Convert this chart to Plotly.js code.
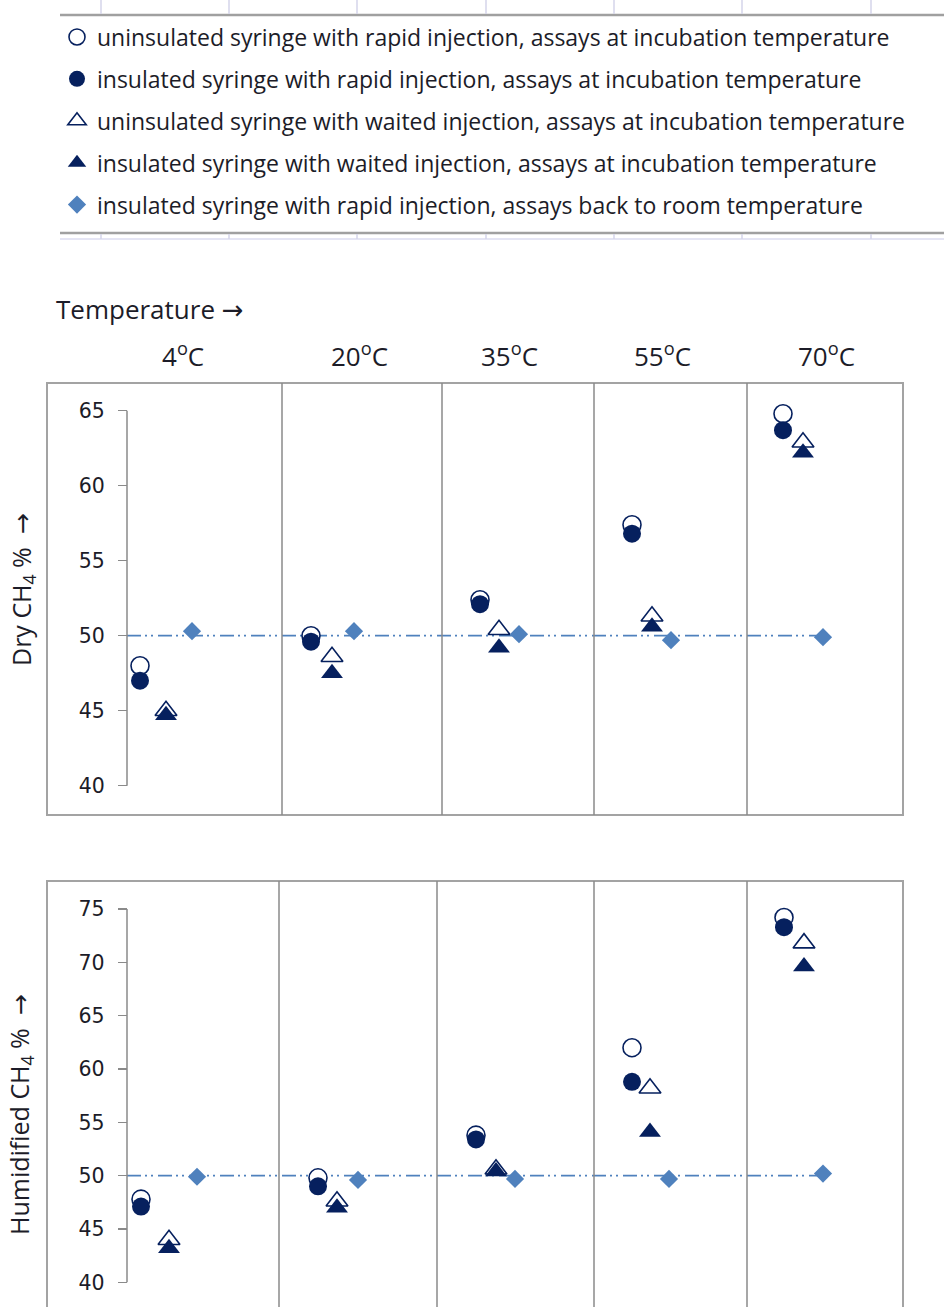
<!DOCTYPE html>
<html>
<head>
<meta charset="utf-8">
<script src="https://cdn.plot.ly/plotly-3.0.1.min.js"></script>
<style>
  html, body { margin: 0; padding: 0; background: #ffffff; }
  #chart { width: 944px; height: 1307px; }
</style>
</head>
<body>
<div id="chart"></div>
<script>
// ---- data -------------------------------------------------------------
const temperatures = ['4', '20', '35', '55', '70'];
const tempLabels = temperatures.map(t => t + '<sup>o</sup>C');

const seriesNames = [
  'uninsulated syringe with rapid injection, assays at incubation temperature',
  'insulated syringe with rapid injection, assays at incubation temperature',
  'uninsulated syringe with waited injection, assays at incubation temperature',
  'insulated syringe with waited injection, assays at incubation temperature',
  'insulated syringe with rapid injection, assays back to room temperature'
];

// Dry CH4 % per temperature
const dryUninsRapid  = [48.0, 50.0, 52.4, 57.4, 64.8];
const dryInsRapid    = [47.0, 49.6, 52.1, 56.8, 63.7];
const dryUninsWaited = [45.0, 48.6, 50.4, 51.3, 62.9];
const dryInsWaited   = [44.7, 47.5, 49.2, 50.6, 62.2];
const dryInsRoom     = [50.3, 50.3, 50.1, 49.7, 49.9];

// Humidified CH4 % per temperature
const humUninsRapid  = [47.8, 49.8, 53.8, 62.0, 74.2];
const humInsRapid    = [47.1, 49.0, 53.4, 58.8, 73.3];
const humUninsWaited = [44.0, 47.6, 50.6, 58.2, 71.8];
const humInsWaited   = [43.2, 47.0, 50.4, 54.1, 69.6];
const humInsRoom     = [49.9, 49.6, 49.7, 49.7, 50.2];

// nominal CH4 content of the test gas
const refLevel = 50;

// horizontal placement (x-axis units) of each assay within a temperature column
const dryRapidX  = [9.3, 26.4, 43.3, 58.5, 73.6];
const dryWaitedX = [11.9, 28.5, 45.2, 60.5, 75.6];
const dryRoomX   = [14.5, 30.7, 47.2, 62.4, 77.6];
const humRapidX  = [9.4, 27.1, 42.9, 58.5, 73.7];
const humWaitedX = [12.2, 29.0, 44.9, 60.3, 75.7];
const humRoomX   = [15.0, 31.1, 46.8, 62.2, 77.6];

const dryTicks = [40, 45, 50, 55, 60, 65];
const humTicks = [40, 45, 50, 55, 60, 65, 70, 75];

// ---- page geometry ------------------------------------------------------
const W = 944, H = 1307;
const fx = px => px / W;
const fy = py => 1 - py / H;

const NAVY = '#06205e';
const LIGHT = '#4f81bd';
const GRID = '#8a8a8a';
const BOX = '#a3a3a3';
const TXT = '#1c1c28';
const SANS = '"Open Sans", "Noto Sans", sans-serif';
const ARROW = '<span style="font-family:\'DejaVu Sans\'">\u2192</span>';

function panelTraces(xa, ya, rapidX, waitedX, roomX, vals, axisX, showLeg) {
  const styles = [
    {symbol: 'circle', size: 18, color: '#ffffff', line: {color: NAVY, width: 1.6}},
    {symbol: 'circle', size: 18, color: NAVY, line: {color: NAVY, width: 0}},
    {symbol: 'triangle-up', size: 19, color: '#ffffff', line: {color: NAVY, width: 1.6}},
    {symbol: 'triangle-up', size: 19, color: NAVY, line: {color: NAVY, width: 0}},
    {symbol: 'diamond', size: 14, color: LIGHT, line: {color: LIGHT, width: 0}}
  ];
  const xs = [rapidX, rapidX, waitedX, waitedX, roomX];
  const traces = [{
    type: 'scatter', mode: 'lines', xaxis: xa, yaxis: ya,
    x: [axisX, roomX[roomX.length - 1]], y: [refLevel, refLevel],
    line: {color: LIGHT, width: 1.8, dash: '14px,4px,2px,4px,2px,5px'},
    showlegend: false, hoverinfo: 'skip'
  }];
  vals.forEach((v, i) => {
    traces.push({
      type: 'scatter', mode: 'markers', xaxis: xa, yaxis: ya,
      name: seriesNames[i], legendgroup: 'g' + i, showlegend: showLeg,
      x: xs[i], y: v, text: tempLabels,
      marker: styles[i], cliponaxis: false
    });
  });
  return traces;
}

const data = [].concat(
  panelTraces('x', 'y', dryRapidX, dryWaitedX, dryRoomX,
    [dryUninsRapid, dryInsRapid, dryUninsWaited, dryInsWaited, dryInsRoom], 8.0, true),
  panelTraces('x2', 'y2', humRapidX, humWaitedX, humRoomX,
    [humUninsRapid, humInsRapid, humUninsWaited, humInsWaited, humInsRoom], 8.0, false)
);

// ---- layout -------------------------------------------------------------
const xRange = [0, 85.6];
const hiddenX = {
  domain: [fx(47), fx(903)], range: xRange, visible: false,
  showgrid: false, zeroline: false, fixedrange: true
};
function yAxis(domain, range, ticks, posPx) {
  return {
    domain: domain, range: range, anchor: 'free', position: fx(posPx),
    tickvals: ticks, ticks: 'outside', ticklen: 9, tickwidth: 1.3, tickcolor: GRID,
    showgrid: false, zeroline: false, showline: false,
    ticklabelstandoff: 9,
    tickfont: {family: '"DejaVu Sans", Verdana, sans-serif', size: 20.5, color: TXT},
    fixedrange: true
  };
}

const shapes = [];
// panel frames
shapes.push({type: 'rect', xref: 'paper', yref: 'paper',
  x0: fx(47), x1: fx(903), y0: fy(815), y1: fy(383), line: {color: BOX, width: 2}});
shapes.push({type: 'rect', xref: 'paper', yref: 'paper',
  x0: fx(47), x1: fx(903), y0: fy(1330), y1: fy(881), line: {color: BOX, width: 2}});
// column separators between temperatures
const drySep = [23.5, 39.5, 54.7, 70.0];
const humSep = [23.2, 39.0, 54.7, 70.0];
drySep.forEach(s => shapes.push({type: 'line', xref: 'x', yref: 'paper',
  x0: s, x1: s, y0: fy(815), y1: fy(383), line: {color: GRID, width: 1.5}}));
humSep.forEach(s => shapes.push({type: 'line', xref: 'x2', yref: 'paper',
  x0: s, x1: s, y0: fy(1330), y1: fy(881), line: {color: GRID, width: 1.5}}));
// value-axis spines covering only the labelled range
shapes.push({type: 'line', xref: 'x', yref: 'y', x0: 8.0, x1: 8.0,
  y0: dryTicks[0], y1: dryTicks[dryTicks.length - 1], line: {color: GRID, width: 1.5}});
shapes.push({type: 'line', xref: 'x2', yref: 'y2', x0: 8.0, x1: 8.0,
  y0: humTicks[0], y1: humTicks[humTicks.length - 1], line: {color: GRID, width: 1.5}});
// legend rules
shapes.push({type: 'line', xref: 'paper', yref: 'paper', x0: fx(60), x1: 1,
  y0: fy(15), y1: fy(15), line: {color: '#a0a0a0', width: 2.5}});
shapes.push({type: 'line', xref: 'paper', yref: 'paper', x0: fx(60), x1: 1,
  y0: fy(233), y1: fy(233), line: {color: '#a0a0a0', width: 2.5}});
shapes.push({type: 'line', xref: 'paper', yref: 'paper', x0: fx(60), x1: 1,
  y0: fy(239), y1: fy(239), line: {color: '#dcdcf0', width: 1.5}});
[101, 229, 357, 486, 614, 742, 871].forEach(p => {
  shapes.push({type: 'line', xref: 'paper', yref: 'paper', x0: fx(p), x1: fx(p),
    y0: fy(0), y1: fy(14), line: {color: '#d4d4ea', width: 1.5}});
  shapes.push({type: 'line', xref: 'paper', yref: 'paper', x0: fx(p), x1: fx(p),
    y0: fy(234), y1: fy(239), line: {color: '#d4d4ea', width: 1.5}});
});

const labelX = [13.6, 31.2, 46.2, 61.5, 77.9];
const annotations = tempLabels.map((t, i) => ({
  text: t, xref: 'x', yref: 'paper', x: labelX[i], y: fy(355),
  xanchor: 'center', yanchor: 'middle', showarrow: false,
  font: {family: SANS, size: 26, color: TXT}
}));
annotations.push({
  text: 'Temperature ' + ARROW, xref: 'paper', yref: 'paper', x: fx(54), y: fy(309),
  xanchor: 'left', yanchor: 'middle', showarrow: false,
  font: {family: SANS, size: 26, color: TXT}
});
annotations.push({
  text: 'Dry CH<sub>4</sub> %\u00a0\u00a0' + ARROW, xref: 'paper', yref: 'paper',
  x: fx(23), y: fy(590), textangle: -90, xanchor: 'center', yanchor: 'middle',
  showarrow: false, font: {family: SANS, size: 25, color: TXT}
});
annotations.push({
  text: 'Humidified CH<sub>4</sub> %\u00a0\u00a0' + ARROW, xref: 'paper', yref: 'paper',
  x: fx(20), y: fy(1115), textangle: -90, xanchor: 'center', yanchor: 'middle',
  showarrow: false, font: {family: SANS, size: 25, color: TXT}
});

const layout = {
  width: W, height: H,
  margin: {l: 0, r: 0, t: 0, b: 0},
  paper_bgcolor: '#ffffff', plot_bgcolor: 'rgba(0,0,0,0)',
  showlegend: true,
  legend: {
    x: fx(57), y: fy(15.5), xanchor: 'left', yanchor: 'top',
    bgcolor: 'rgba(0,0,0,0)', borderwidth: 0,
    traceorder: 'grouped', tracegroupgap: 9, itemsizing: 'trace',
    font: {family: SANS, size: 23, color: TXT}
  },
  xaxis: Object.assign({anchor: 'y'}, hiddenX),
  xaxis2: Object.assign({anchor: 'y2'}, hiddenX),
  yaxis: yAxis([fy(815), fy(383)], [38.047, 66.847], dryTicks, 127),
  yaxis2: yAxis([0, fy(881)], [37.69, 77.625], humTicks, 126.7),
  shapes: shapes,
  annotations: annotations
};

Plotly.newPlot('chart', data, layout, {staticPlot: true, displayModeBar: false});
</script>
</body>
</html>
